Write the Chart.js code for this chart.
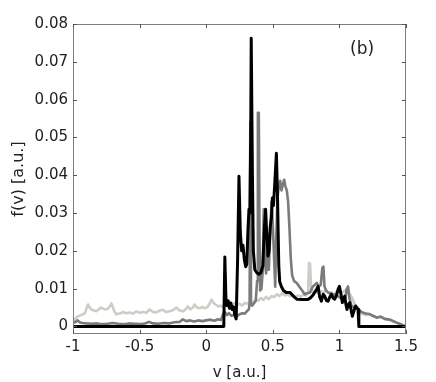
<!DOCTYPE html>
<html>
<head>
<meta charset="utf-8">
<script src="https://cdn.jsdelivr.net/npm/chart.js@4.4.1/dist/chart.umd.min.js"></script>
<style>
  html, body { margin: 0; padding: 0; background: #fff; }
  #wrap { width: 436px; height: 382px; }
</style>
</head>
<body>
<div id="wrap"><canvas id="fv" width="436" height="382"></canvas></div>
<script>
// velocity grid and f(v), one pair of arrays per curve
const blackV = [-1, 0.132, 0.14, 0.148, 0.156, 0.165, 0.175, 0.185, 0.195, 0.205, 0.215, 0.225, 0.236, 0.246, 0.256, 0.266, 0.276, 0.287, 0.297, 0.305, 0.313, 0.321, 0.328, 0.334, 0.338, 0.342, 0.347, 0.354, 0.365, 0.38, 0.395, 0.41, 0.425, 0.437, 0.446, 0.455, 0.464, 0.472, 0.48, 0.49, 0.497, 0.505, 0.515, 0.527, 0.535, 0.545, 0.552, 0.565, 0.58, 0.6, 0.63, 0.66, 0.68, 0.72, 0.76, 0.78, 0.8, 0.815, 0.828, 0.84, 0.852, 0.865, 0.878, 0.89, 0.903, 0.915, 0.928, 0.94, 0.953, 0.965, 0.978, 0.99, 1.0, 1.012, 1.022, 1.032, 1.04, 1.048, 1.057, 1.067, 1.077, 1.087, 1.097, 1.11, 1.122, 1.132, 1.14, 1.146, 1.5];
const blackF = [0, 0, 0.0184, 0.0075, 0.0055, 0.0068, 0.0048, 0.0062, 0.0045, 0.0052, 0.003, 0.002, 0.018, 0.0397, 0.025, 0.02, 0.0215, 0.0175, 0.0158, 0.0165, 0.025, 0.031, 0.03, 0.05, 0.0762, 0.0762, 0.04, 0.02, 0.015, 0.0142, 0.0138, 0.0142, 0.016, 0.026, 0.031, 0.024, 0.0186, 0.02, 0.026, 0.029, 0.034, 0.032, 0.038, 0.0458, 0.035, 0.016, 0.0118, 0.0105, 0.0095, 0.009, 0.009, 0.0078, 0.0072, 0.0071, 0.0071, 0.0075, 0.0082, 0.009, 0.0098, 0.0106, 0.0078, 0.0067, 0.0085, 0.008, 0.0068, 0.0067, 0.0078, 0.0085, 0.0075, 0.0072, 0.0082, 0.0098, 0.0106, 0.0085, 0.0063, 0.0075, 0.008, 0.006, 0.0045, 0.0058, 0.0063, 0.0045, 0.0027, 0.0042, 0.0054, 0.0048, 0.0045, 0, 0];

const grayV = [-1, -0.98, -0.965, -0.95, -0.93, -0.9, -0.86, -0.82, -0.78, -0.74, -0.7, -0.66, -0.62, -0.58, -0.54, -0.5, -0.46, -0.43, -0.4, -0.36, -0.32, -0.28, -0.24, -0.2, -0.175, -0.15, -0.12, -0.09, -0.06, -0.03, 0, 0.03, 0.06, 0.09, 0.11, 0.126, 0.14, 0.155, 0.17, 0.19, 0.21, 0.23, 0.25, 0.27, 0.29, 0.31, 0.32, 0.326, 0.331, 0.336, 0.345, 0.36, 0.372, 0.382, 0.388, 0.395, 0.4, 0.405, 0.415, 0.425, 0.432, 0.44, 0.45, 0.46, 0.47, 0.48, 0.49, 0.5, 0.51, 0.518, 0.525, 0.535, 0.545, 0.555, 0.565, 0.575, 0.585, 0.595, 0.605, 0.615, 0.625, 0.635, 0.645, 0.66, 0.68, 0.7, 0.72, 0.74, 0.76, 0.78, 0.8, 0.815, 0.83, 0.845, 0.86, 0.872, 0.88, 0.888, 0.9, 0.915, 0.93, 0.95, 0.97, 0.99, 1.01, 1.03, 1.045, 1.055, 1.065, 1.075, 1.09, 1.11, 1.13, 1.15, 1.18, 1.2, 1.23, 1.26, 1.28, 1.31, 1.34, 1.38, 1.41, 1.43, 1.46, 1.48, 1.5];
const grayF = [0.001, 0.0012, 0.0016, 0.0011, 0.0009, 0.0008, 0.0007, 0.0008, 0.0006, 0.0007, 0.0009, 0.0007, 0.0006, 0.0008, 0.0007, 0.0006, 0.0008, 0.0012, 0.0008, 0.0007, 0.0009, 0.0008, 0.0011, 0.0012, 0.0019, 0.0014, 0.0016, 0.0013, 0.0016, 0.0014, 0.0016, 0.0018, 0.0015, 0.0019, 0.0017, 0.0032, 0.0038, 0.003, 0.0035, 0.0028, 0.003, 0.0027, 0.0032, 0.0035, 0.0034, 0.0042, 0.0045, 0.006, 0.054, 0.006, 0.0055, 0.0062, 0.0068, 0.012, 0.0565, 0.0565, 0.025, 0.0095, 0.01, 0.015, 0.031, 0.018, 0.014, 0.02, 0.015, 0.024, 0.033, 0.027, 0.018, 0.0105, 0.022, 0.034, 0.037, 0.0385, 0.036, 0.0375, 0.0388, 0.037, 0.036, 0.033, 0.026, 0.018, 0.0135, 0.012, 0.0115, 0.0105, 0.0095, 0.0085, 0.0088, 0.009, 0.0105, 0.011, 0.0115, 0.0105, 0.011, 0.0155, 0.0158, 0.0106, 0.0095, 0.009, 0.0088, 0.0085, 0.0083, 0.008, 0.0075, 0.0072, 0.0075, 0.0098, 0.0106, 0.0075, 0.0055, 0.005, 0.0052, 0.0042, 0.0036, 0.0034, 0.0032, 0.0027, 0.0023, 0.0026, 0.002, 0.0018, 0.0013, 0.001, 0.0006, 0.0002, 0];

const lightV = [-1, -0.98, -0.962, -0.94, -0.91, -0.895, -0.887, -0.875, -0.862, -0.845, -0.825, -0.81, -0.79, -0.775, -0.762, -0.74, -0.72, -0.712, -0.7, -0.69, -0.675, -0.65, -0.625, -0.6, -0.575, -0.55, -0.525, -0.5, -0.475, -0.45, -0.425, -0.4, -0.375, -0.35, -0.325, -0.3, -0.275, -0.25, -0.225, -0.2, -0.175, -0.155, -0.137, -0.12, -0.1, -0.087, -0.07, -0.05, -0.03, -0.01, 0.01, 0.025, 0.04, 0.055, 0.07, 0.09, 0.11, 0.13, 0.15, 0.17, 0.19, 0.21, 0.23, 0.25, 0.27, 0.29, 0.31, 0.33, 0.35, 0.37, 0.39, 0.41, 0.43, 0.45, 0.47, 0.49, 0.51, 0.53, 0.55, 0.57, 0.59, 0.61, 0.63, 0.65, 0.67, 0.69, 0.71, 0.73, 0.75, 0.765, 0.772, 0.78, 0.788, 0.8, 0.82, 0.84, 0.86, 0.88, 0.9, 0.92, 0.94, 0.96, 0.98, 1.0, 1.02, 1.04, 1.05, 1.06, 1.08, 1.1, 1.12, 1.14, 1.16, 1.18, 1.2, 1.22, 1.25, 1.28, 1.31, 1.34, 1.37, 1.4, 1.43, 1.46, 1.5];
const lightF = [0.0014, 0.0022, 0.0027, 0.003, 0.0035, 0.0052, 0.0058, 0.005, 0.0045, 0.0042, 0.004, 0.0044, 0.005, 0.0047, 0.0045, 0.0046, 0.0055, 0.0061, 0.005, 0.004, 0.0032, 0.0034, 0.0038, 0.0035, 0.0037, 0.0034, 0.004, 0.0036, 0.0038, 0.0036, 0.0045, 0.0038, 0.0037, 0.0042, 0.0044, 0.0038, 0.004, 0.0043, 0.005, 0.0042, 0.004, 0.0045, 0.0053, 0.0045, 0.005, 0.0058, 0.005, 0.0048, 0.0052, 0.0048, 0.0052, 0.006, 0.0071, 0.0062, 0.0058, 0.0053, 0.0055, 0.005, 0.0058, 0.006, 0.0055, 0.0062, 0.0058, 0.006, 0.0055, 0.0062, 0.006, 0.0065, 0.0063, 0.007, 0.0068, 0.0075, 0.007, 0.0078, 0.0072, 0.008, 0.0078, 0.0085, 0.008, 0.0088, 0.0082, 0.0085, 0.008, 0.0085, 0.0078, 0.0082, 0.0078, 0.0085, 0.0082, 0.009, 0.0168, 0.0165, 0.0098, 0.0092, 0.0095, 0.0088, 0.0093, 0.009, 0.0095, 0.0088, 0.009, 0.0085, 0.0092, 0.0088, 0.009, 0.0095, 0.0098, 0.0088, 0.0085, 0.0072, 0.0054, 0.0045, 0.0036, 0.0032, 0.003, 0.0033, 0.0027, 0.0024, 0.0025, 0.002, 0.0018, 0.0014, 0.001, 0.0005, 0.0002];

const xTicks = [-1, -0.5, 0, 0.5, 1, 1.5];
const yTicks = [0, 0.01, 0.02, 0.03, 0.04, 0.05, 0.06, 0.07, 0.08];
const panelLabel = '(b)';

const FONT = 'DejaVu Sans, Verdana, sans-serif';

function pts(v, f) {
    return v.map((x, i) => ({ x: x, y: f[i] }));
}

// box with inward tick marks on all four sides, plus the panel letter
const frame = {
    id: 'frame',
    afterDraw(c) {
        const { ctx, chartArea: a } = c;
        const xs = c.scales.x, ys = c.scales.y;
        ctx.save();
        ctx.strokeStyle = '#7d7d7d';
        ctx.lineWidth = 1;
        ctx.strokeRect(a.left + 0.5, a.top + 0.5, a.right - a.left - 1, a.bottom - a.top - 1);
        ctx.strokeStyle = '#555';
        ctx.beginPath();
        xTicks.forEach(t => {
            const px = Math.round(xs.getPixelForValue(t)) + 0.5;
            ctx.moveTo(px, a.bottom); ctx.lineTo(px, a.bottom - 4);
            ctx.moveTo(px, a.top); ctx.lineTo(px, a.top + 4);
        });
        yTicks.forEach(t => {
            const py = Math.round(ys.getPixelForValue(t)) + 0.5;
            ctx.moveTo(a.left, py); ctx.lineTo(a.left + 4, py);
            ctx.moveTo(a.right, py); ctx.lineTo(a.right - 4, py);
        });
        ctx.stroke();
        ctx.fillStyle = '#222';
        ctx.font = '17px ' + FONT;
        ctx.textAlign = 'center';
        ctx.textBaseline = 'middle';
        ctx.fillText(panelLabel, xs.getPixelForValue(1.17), ys.getPixelForValue(0.0733));
        ctx.restore();
    }
};

const ctx = document.getElementById('fv').getContext('2d');
new Chart(ctx, {
    type: 'line',
    data: {
        datasets: [{
            data: pts(blackV, blackF),
            borderColor: '#000000',
            borderWidth: 3
        }, {
            data: pts(grayV, grayF),
            borderColor: '#7b7b7b',
            borderWidth: 2.6
        }, {
            data: pts(lightV, lightF),
            borderColor: '#cfccc5',
            borderWidth: 2.6
        }]
    },
    options: {
        responsive: false,
        animation: false,
        elements: {
            point: { radius: 0 },
            line: { tension: 0, borderJoinStyle: 'round', fill: false }
        },
        layout: { padding: { top: 24, right: 30, left: 0, bottom: 0 } },
        plugins: { legend: { display: false }, tooltip: { enabled: false } },
        scales: {
            x: {
                type: 'linear',
                min: -1,
                max: 1.5,
                grid: { display: false, drawTicks: false },
                border: { display: false },
                afterFit: s => { s.height = 48; },
                afterBuildTicks: s => { s.ticks = xTicks.map(v => ({ value: v })); },
                ticks: {
                    padding: 4,
                    color: '#222',
                    font: { family: FONT, size: 15 },
                    callback: v => String(v)
                },
                title: {
                    display: true,
                    text: 'v [a.u.]',
                    color: '#222',
                    font: { family: FONT, size: 15 },
                    padding: { top: 6, bottom: 0 }
                }
            },
            y: {
                type: 'linear',
                min: -0.002,
                max: 0.08,
                grid: { display: false, drawTicks: false },
                border: { display: false },
                afterFit: s => { s.width = 73; },
                afterBuildTicks: s => { s.ticks = yTicks.map(v => ({ value: v })); },
                ticks: {
                    padding: 5,
                    color: '#222',
                    font: { family: FONT, size: 15 },
                    callback: v => (v === 0 ? '0' : v.toFixed(2))
                },
                title: {
                    display: true,
                    text: 'f(v) [a.u.]',
                    color: '#222',
                    font: { family: FONT, size: 16 },
                    padding: { top: 9, bottom: 0 }
                }
            }
        }
    },
    plugins: [frame]
});
</script>
</body>
</html>
